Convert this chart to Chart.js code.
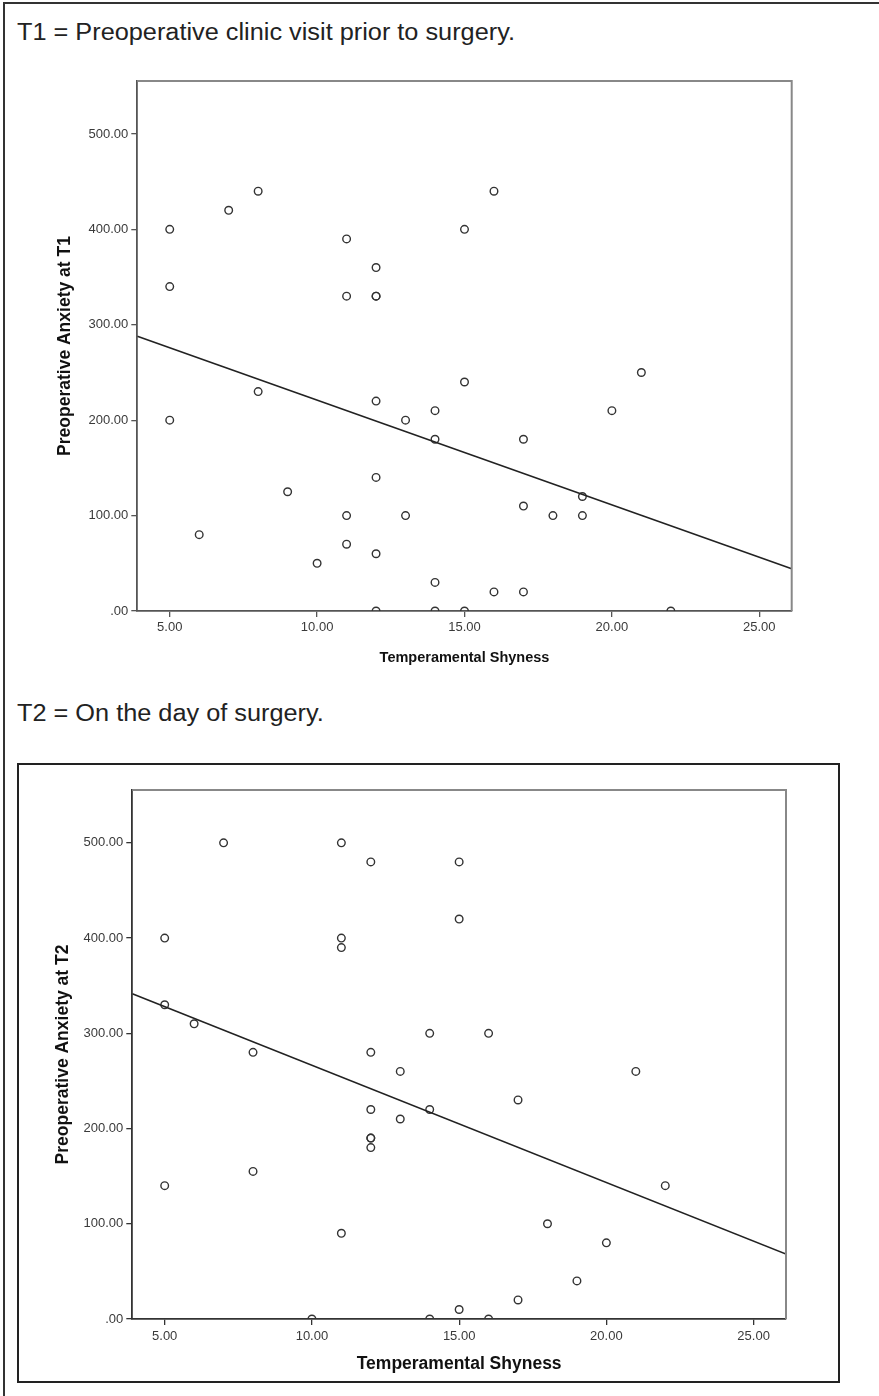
<!DOCTYPE html>
<html>
<head>
<meta charset="utf-8">
<script src="https://cdn.jsdelivr.net/npm/chart.js@4/dist/chart.umd.min.js"></script>
<style>
  html, body { margin: 0; padding: 0; background: #fff; }
  body { width: 879px; height: 1396px; position: relative; overflow: hidden; font-family: "Liberation Sans", Arial, sans-serif; }
  .pageframe { position: absolute; left: 3px; top: 2px; width: 900px; height: 1400px; border-top: 2px solid #333; border-left: 2px solid #333; }
  .note { position: absolute; left: 17px; font-size: 23px; line-height: 23px; color: #222; white-space: nowrap;
          transform: scaleX(1.1); transform-origin: left top; }
  .frame2 { position: absolute; left: 17px; top: 763px; width: 823px; height: 620px; border: 2.5px solid #222; box-sizing: border-box; }
  canvas { position: absolute; }
</style>
</head>
<body>
<div class="pageframe"></div>
<div class="note" style="top:21px">T1 = Preoperative clinic visit prior to surgery.</div>
<div class="note" style="top:702px">T2 = On the day of surgery.</div>
<div class="frame2"></div>
<canvas id="c1" width="780" height="601" style="left:40px; top:70px;"></canvas>
<canvas id="c2" width="800" height="607" style="left:25px; top:770px;"></canvas>
<script>
// ---- data ----
const t1Shyness = [5, 7, 8, 5, 11, 12, 11, 12, 12, 16, 15, 8, 5, 12, 13, 14, 14, 15, 12, 9,
                   11, 13, 6, 11, 12, 10, 14, 12, 14, 15, 21, 20, 17, 19, 17, 18, 19, 16, 17, 22];
const t1Anxiety = [400, 420, 440, 340, 390, 360, 330, 330, 330, 440, 400, 230, 200, 220, 200, 210, 180, 240, 140, 125,
                   100, 100, 80, 70, 60, 50, 30, 0, 0, 0, 250, 210, 180, 120, 110, 100, 100, 20, 20, 0];
const t2Shyness = [7, 11, 12, 15, 15, 5, 11, 11, 5, 6, 8, 12, 14, 13, 16, 21, 12, 14, 13, 12,
                   12, 12, 8, 5, 11, 10, 14, 15, 17, 22, 18, 20, 19, 17, 16];
const t2Anxiety = [500, 500, 480, 480, 420, 400, 400, 390, 330, 310, 280, 280, 300, 260, 300, 260, 220, 220, 210, 190,
                   190, 180, 155, 140, 90, 0, 0, 10, 230, 140, 100, 80, 40, 20, 0];
const xTicks = [5, 10, 15, 20, 25];
const yTicks = [0, 100, 200, 300, 400, 500];
const xRange = [3.9, 26.1];
const yRange = [0, 555.5];
const xTitle = 'Temperamental Shyness';
const yTitle1 = 'Preoperative Anxiety at T1';
const yTitle2 = 'Preoperative Anxiety at T2';

function fitLine(xs, ys) {
  const n = xs.length;
  const mx = xs.reduce((a, b) => a + b, 0) / n;
  const my = ys.reduce((a, b) => a + b, 0) / n;
  let sxy = 0, sxx = 0;
  for (let i = 0; i < n; i++) { sxy += (xs[i] - mx) * (ys[i] - my); sxx += (xs[i] - mx) ** 2; }
  const b = sxy / sxx, a = my - b * mx;
  return xRange.map(x => ({ x: x, y: a + b * x }));
}

const fmt = v => (v === 0 ? '.00' : Number(v).toFixed(2));

const boxPlugin = {
  id: 'box',
  afterDatasetsDraw(chart, args, opts) {
    const { ctx, chartArea: a } = chart;
    ctx.save();
    ctx.strokeStyle = opts.color;
    ctx.lineWidth = opts.width;
    ctx.beginPath();
    ctx.moveTo(a.left, a.top);
    ctx.lineTo(a.right, a.top);
    ctx.lineTo(a.right, a.bottom);
    ctx.stroke();
    ctx.restore();
  }
};

function makeChart(id, xs, ys, yTitle, cfg) {
  const pts = xs.map((x, i) => ({ x: x, y: ys[i] }));
  return new Chart(document.getElementById(id), {
    type: 'scatter',
    data: {
      datasets: [
        {
          data: pts, pointStyle: 'circle', pointRadius: 3.8, pointHoverRadius: 3.8,
          borderColor: '#333', backgroundColor: 'rgba(0,0,0,0)', pointBorderWidth: 1.4, clip: 0, order: 2
        },
        {
          type: 'line', data: fitLine(xs, ys), borderColor: '#222', borderWidth: 1.6,
          pointRadius: 0, fill: false, clip: 0, order: 1
        }
      ]
    },
    options: {
      responsive: false, animation: false, devicePixelRatio: 1,
      events: [],
      layout: { padding: { top: cfg.padTop, right: cfg.padRight, left: 0, bottom: 0 } },
      plugins: { legend: { display: false }, tooltip: { enabled: false }, box: { color: '#888', width: 2 } },
      scales: {
        x: {
          type: 'linear', min: xRange[0], max: xRange[1],
          afterBuildTicks: s => { s.ticks = xTicks.map(v => ({ value: v })); },
          afterFit: s => { s.height = cfg.xHeight; },
          grid: { drawOnChartArea: false, drawTicks: true, tickLength: 6, color: cfg.axisColor, lineWidth: 1.3 },
          border: { display: true, color: cfg.axisColor, width: 1.8 },
          ticks: { callback: fmt, color: '#3a3a3a', padding: cfg.xTickPad, maxRotation: 0, font: { family: 'Liberation Sans', size: 13 } },
          title: { display: true, text: xTitle, color: '#111', padding: { top: 0, bottom: cfg.xTitlePad },
                   font: { family: 'Liberation Sans', size: cfg.xTitleSize, weight: 'bold' } }
        },
        y: {
          type: 'linear', min: yRange[0], max: yRange[1],
          afterBuildTicks: s => { s.ticks = yTicks.map(v => ({ value: v })); },
          afterFit: s => { s.width = cfg.yWidth; },
          grid: { drawOnChartArea: false, drawTicks: true, tickLength: 6, color: cfg.axisColor, lineWidth: 1.3 },
          border: { display: true, color: cfg.axisColor, width: 1.8 },
          ticks: { callback: fmt, color: '#3a3a3a', padding: 3, font: { family: 'Liberation Sans', size: 13 } },
          title: { display: true, text: yTitle, color: '#111', padding: { top: cfg.yTitlePad, bottom: 0 },
                   font: { family: 'Liberation Sans', size: 17.5, weight: 'bold' } }
        }
      }
    },
    plugins: [boxPlugin]
  });
}

makeChart('c1', t1Shyness, t1Anxiety, yTitle1, {
  padTop: 11, padRight: 28.3, yWidth: 97.3, xHeight: 60, xTickPad: 3,
  xTitlePad: 4.3, xTitleSize: 14.5, yTitlePad: 14.5, axisColor: '#555'
});
makeChart('c2', t2Shyness, t2Anxiety, yTitle2, {
  padTop: 20, padRight: 39, yWidth: 107.3, xHeight: 58, xTickPad: 3.5,
  xTitlePad: 2.2, xTitleSize: 17.5, yTitlePad: 27.8, axisColor: '#333'
});
</script>
</body>
</html>
